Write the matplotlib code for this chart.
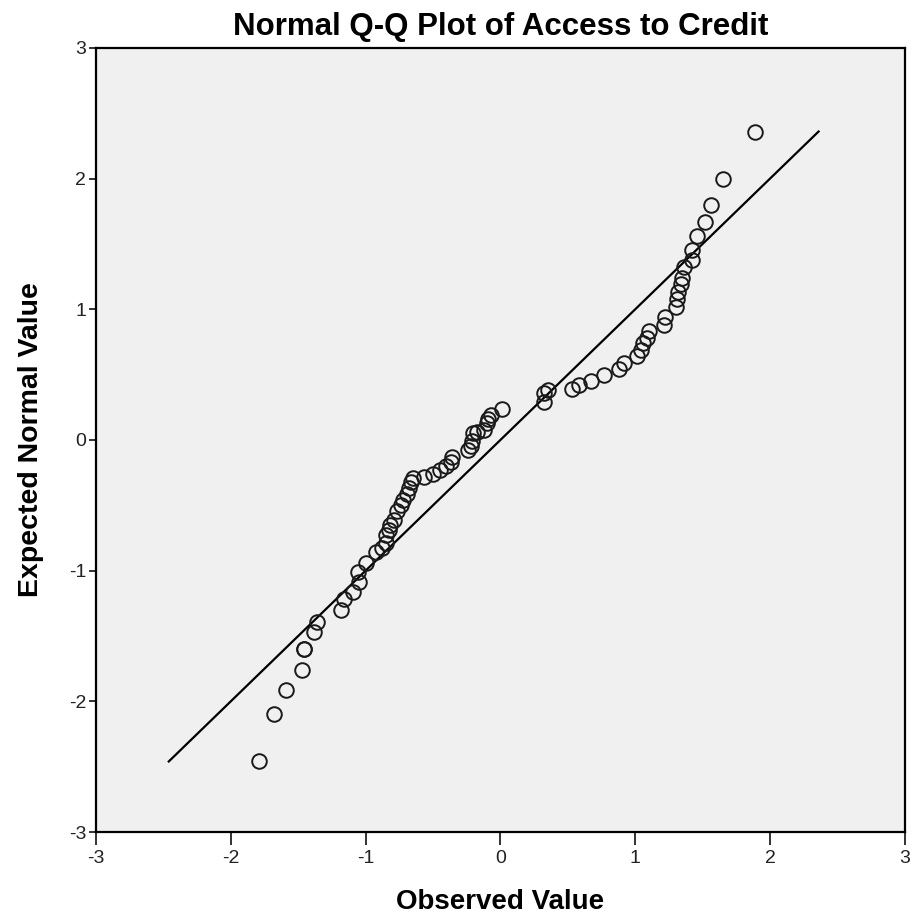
import matplotlib.pyplot as plt

observed = [-1.79, -1.68, -1.59, -1.47, -1.46, -1.46, -1.38, -1.36, -1.18, -1.16,
            -1.09, -1.05, -1.06, -1.00, -0.92, -0.88, -0.85, -0.85, -0.83, -0.82,
            -0.79, -0.77, -0.74, -0.72, -0.69, -0.68, -0.66, -0.65, -0.57, -0.50,
            -0.45, -0.40, -0.37, -0.36, -0.24, -0.22, -0.21, -0.20, -0.17, -0.12,
            -0.10, -0.09, -0.07, 0.01, 0.32, 0.32, 0.35, 0.53, 0.58, 0.67,
            0.77, 0.88, 0.92, 1.01, 1.04, 1.06, 1.09, 1.10, 1.21, 1.22,
            1.30, 1.31, 1.32, 1.34, 1.35, 1.36, 1.42, 1.42, 1.46, 1.52,
            1.56, 1.65, 1.89]
expected = [-2.46, -2.10, -1.91, -1.76, -1.60, -1.60, -1.47, -1.39, -1.30, -1.22,
            -1.16, -1.09, -1.01, -0.94, -0.86, -0.83, -0.79, -0.73, -0.69, -0.65,
            -0.61, -0.54, -0.50, -0.46, -0.41, -0.37, -0.32, -0.29, -0.28, -0.26,
            -0.23, -0.20, -0.17, -0.13, -0.08, -0.05, -0.01, 0.05, 0.06, 0.08,
            0.13, 0.16, 0.19, 0.24, 0.29, 0.36, 0.38, 0.39, 0.42, 0.45,
            0.50, 0.54, 0.59, 0.64, 0.69, 0.74, 0.78, 0.83, 0.88, 0.94,
            1.02, 1.08, 1.13, 1.19, 1.24, 1.32, 1.38, 1.45, 1.56, 1.67,
            1.80, 2.00, 2.36]

# reference line y = x over the range of expected values
line_ends = [min(expected), max(expected)]
ticks = [-3, -2, -1, 0, 1, 2, 3]

plt.rcParams['font.family'] = ['Liberation Sans', 'DejaVu Sans']
plt.rcParams['axes.unicode_minus'] = False  # plain hyphen like the original

fig = plt.figure(figsize=(9.14, 9.21), dpi=100)
ax = fig.add_axes([0.105, 0.0966, 0.885, 0.8514])
ax.set_facecolor("#f0f0f0")

ax.plot(line_ends, line_ends, color="black", linewidth=1.6)
ax.plot(observed, expected, linestyle="none", marker="o", markersize=10.5,
        markerfacecolor="none", markeredgecolor="#1a1a1a", markeredgewidth=1.4)

ax.set_xlim(-3, 3)
ax.set_ylim(-3, 3)
ax.set_xticks(ticks)
ax.set_yticks(ticks)
ax.tick_params(axis="x", direction="out", length=9, width=1.3, labelsize=14,
               colors="#222222", pad=4)
ax.tick_params(axis="y", direction="out", length=5, width=1.3, labelsize=14,
               colors="#222222", pad=2)
for s in ax.spines.values():
    s.set_linewidth(1.6)
    s.set_color("black")

ax.set_title("Normal Q-Q Plot of Access to Credit", fontsize=22.5,
             fontweight="bold", pad=9)
ax.set_xlabel("Observed Value", fontsize=20, fontweight="bold", labelpad=16)
ax.set_ylabel("Expected Normal Value", fontsize=20.5, fontweight="bold", labelpad=18)

fig.savefig("out.png", dpi=100)
